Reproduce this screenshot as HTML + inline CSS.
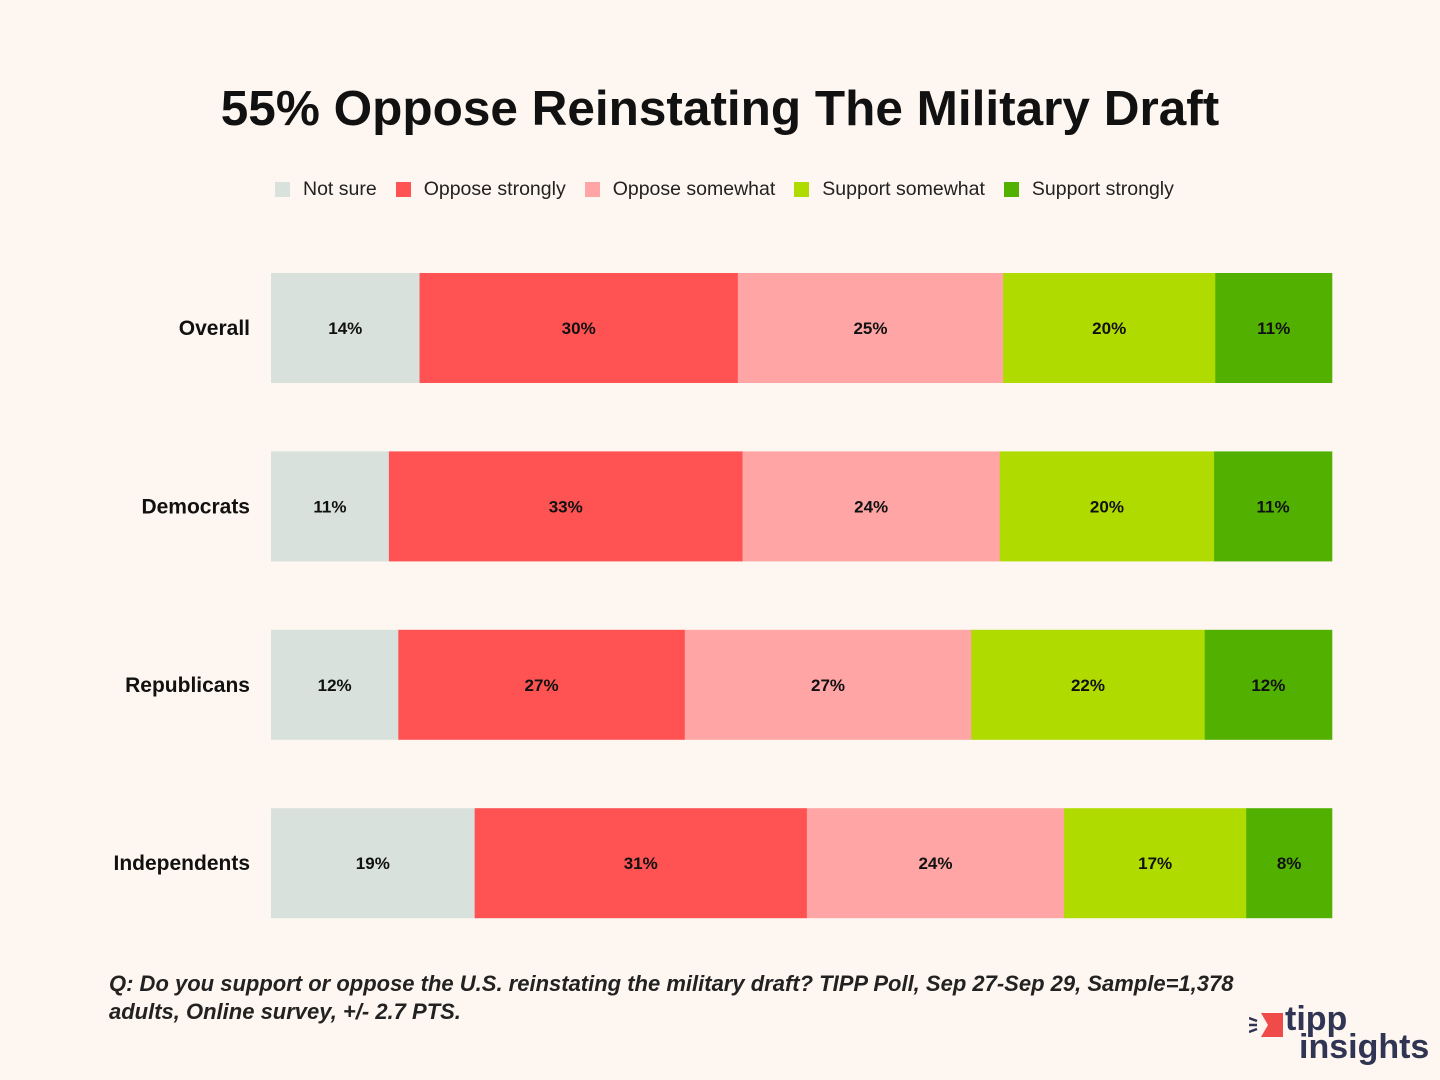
<!DOCTYPE html>
<html><head><meta charset="utf-8"><style>
body{margin:0;width:1440px;height:1080px;background:#fef6f0;font-family:"Liberation Sans",sans-serif;overflow:hidden;position:relative}
.title{position:absolute;left:0;width:1440px;top:80px;text-align:center;font-size:49.5px;font-weight:bold;color:#111}
.legend{position:absolute;top:178px;left:275px;font-size:19.5px;color:#222;display:flex;gap:0}
.li{display:flex;align-items:center;margin-right:19px}
.sw{width:15px;height:15px;margin-right:13px}
.foot{position:absolute;left:109px;top:970px;font-size:22px;font-style:italic;font-weight:bold;color:#222;line-height:28px;width:1200px}
.logo{position:absolute;left:1285px;top:1005px;color:#2f3553;font-weight:bold;font-size:34px;line-height:28px}
</style></head><body>
<div class="title">55% Oppose Reinstating The Military Draft</div>
<div class="legend">
<div class="li"><div class="sw" style="background:#d8e1dc"></div>Not sure</div>
<div class="li"><div class="sw" style="background:#ff5252"></div>Oppose strongly</div>
<div class="li"><div class="sw" style="background:#ffa5a5"></div>Oppose somewhat</div>
<div class="li"><div class="sw" style="background:#b0db00"></div>Support somewhat</div>
<div class="li"><div class="sw" style="background:#52b000"></div>Support strongly</div>
</div>
<svg id="chart" width="1440" height="1080" style="position:absolute;left:0;top:0"></svg>
<div class="foot">Q: Do you support or oppose the U.S. reinstating the military draft? TIPP Poll, Sep 27-Sep 29, Sample=1,378 adults, Online survey, +/- 2.7 PTS.</div>
<div class="logo">
<svg width="36" height="30" style="position:absolute;left:-36px;top:6px"><polygon points="12,2 34,2 34,26 12,26 19,14" fill="#ef4b48"/><line x1="0" y1="7" x2="8" y2="10" stroke="#2f3553" stroke-width="2.5"/><line x1="0" y1="14" x2="8" y2="14" stroke="#2f3553" stroke-width="2.5"/><line x1="0" y1="21" x2="8" y2="18" stroke="#2f3553" stroke-width="2.5"/></svg>
<div>tipp</div><div style="margin-left:14px">insights</div></div>
<script>
const categories=["Overall","Democrats","Republicans","Independents"];
const notSure=[14,11,12,19];
const opposeStrongly=[30,33,27,31];
const opposeSomewhat=[25,24,27,24];
const supportSomewhat=[20,20,22,17];
const supportStrongly=[11,11,12,8];
const series=[notSure,opposeStrongly,opposeSomewhat,supportSomewhat,supportStrongly];
const seriesNames=["not-sure","oppose-strongly","oppose-somewhat","support-somewhat","support-strongly"];
const colors=["#d8e1dc","#ff5252","#ffa5a5","#b0db00","#52b000"];
const svg=document.getElementById('chart');
const NS="http://www.w3.org/2000/svg";
const x0=271,x1=1332,yTop=273,pitch=178.4,bh=110;
function yPos(i){return yTop+i*pitch;}
categories.forEach((c,i)=>{
  const total=series.reduce((s,a)=>s+a[i],0);
  const xs=v=>v/total*(x1-x0);
  let x=x0;const y=yPos(i);
  const lab=document.createElementNS(NS,'text');
  
  
  lab.setAttribute('x',250);lab.setAttribute('y',y+bh/2+7);lab.setAttribute('text-anchor','end');
  lab.setAttribute('font-size','21');lab.setAttribute('font-weight','bold');lab.setAttribute('fill','#111');
  lab.textContent=c;svg.appendChild(lab);
  series.forEach((s,k)=>{
    const w=xs(s[i]);
    const r=document.createElementNS(NS,'rect');
    
    
    r.setAttribute('x',x);r.setAttribute('y',y);r.setAttribute('width',w+0.3);r.setAttribute('height',bh);r.setAttribute('fill',colors[k]);
    svg.appendChild(r);
    const t=document.createElementNS(NS,'text');
    
    
    t.setAttribute('x',x+w/2);t.setAttribute('y',y+bh/2+6);t.setAttribute('text-anchor','middle');
    t.setAttribute('font-size','17');t.setAttribute('font-weight','bold');t.setAttribute('fill','#111');
    t.textContent=s[i]+'%';svg.appendChild(t);
    x+=w;
  });
});
</script>
</body></html>
